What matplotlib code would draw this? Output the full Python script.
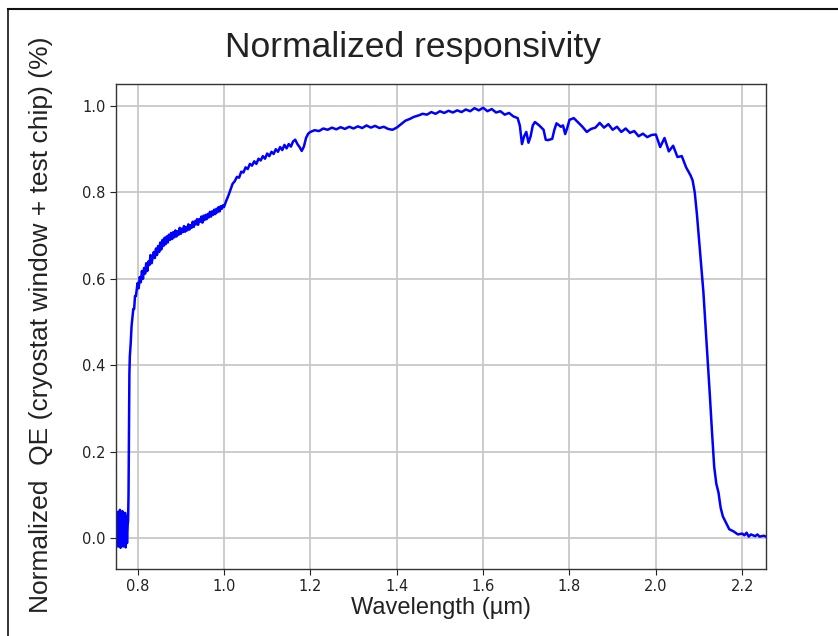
import matplotlib
matplotlib.use("Agg")
import matplotlib.pyplot as plt
from matplotlib.lines import Line2D

wavelength_noise = [0.7500, 0.7515, 0.7530, 0.7545, 0.7560, 0.7575, 0.7590, 0.7605,
                    0.7620, 0.7635, 0.7650, 0.7665, 0.7680, 0.7695, 0.7710, 0.7725,
                    0.7740, 0.7755, 0.7770, 0.7780]
qe_noise = [0.020, -0.015, 0.060, -0.020, 0.050, 0.000, 0.065, -0.023,
            0.055, -0.010, 0.062, -0.020, 0.045, -0.015, 0.058, -0.022,
            0.050, -0.012, 0.030, 0.040]

wavelength_rise = [0.779, 0.780, 0.781, 0.782, 0.784, 0.786, 0.788, 0.790, 0.792,
                   0.794, 0.796, 0.798]
qe_rise = [0.100, 0.250, 0.380, 0.420, 0.450, 0.490, 0.510, 0.530, 0.530,
           0.560, 0.560, 0.575]

wavelength_knee = [
    0.8000, 0.8025, 0.8050, 0.8075, 0.8100, 0.8125, 0.8150, 0.8175, 0.8200, 0.8225,
    0.8250, 0.8275, 0.8300, 0.8325, 0.8350, 0.8375, 0.8400, 0.8425, 0.8450, 0.8475,
    0.8500, 0.8525, 0.8550, 0.8575, 0.8600, 0.8625, 0.8650, 0.8675, 0.8700, 0.8725,
    0.8750, 0.8775, 0.8800, 0.8825, 0.8850, 0.8875, 0.8900, 0.8925, 0.8950, 0.8975,
    0.9000, 0.9025, 0.9050, 0.9075, 0.9100, 0.9125, 0.9150, 0.9175, 0.9200, 0.9225,
    0.9250, 0.9275, 0.9300, 0.9325, 0.9350, 0.9375, 0.9400, 0.9425, 0.9450, 0.9475,
    0.9500, 0.9525, 0.9550, 0.9575, 0.9600, 0.9625, 0.9650, 0.9675, 0.9700, 0.9725,
    0.9750, 0.9775, 0.9800, 0.9825, 0.9850, 0.9875, 0.9900, 0.9925, 0.9950, 0.9975,
    1.0000]
qe_knee = [
    0.590, 0.578, 0.604, 0.592, 0.618, 0.600, 0.625, 0.612, 0.636, 0.618,
    0.640, 0.632, 0.655, 0.636, 0.650, 0.662, 0.648, 0.670, 0.655, 0.676,
    0.662, 0.684, 0.668, 0.690, 0.676, 0.695, 0.680, 0.698, 0.684, 0.702,
    0.690, 0.706, 0.692, 0.708, 0.696, 0.712, 0.698, 0.710, 0.702, 0.718,
    0.704, 0.716, 0.708, 0.722, 0.709, 0.720, 0.712, 0.726, 0.714, 0.724,
    0.718, 0.732, 0.720, 0.733, 0.726, 0.738, 0.725, 0.738, 0.732, 0.744,
    0.730, 0.746, 0.736, 0.748, 0.738, 0.750, 0.742, 0.755, 0.744, 0.756,
    0.748, 0.760, 0.750, 0.762, 0.754, 0.766, 0.756, 0.768, 0.762, 0.770,
    0.766]

wavelength_shoulder = [
    1.005, 1.010, 1.015, 1.020, 1.025, 1.030, 1.035, 1.040, 1.045, 1.050,
    1.055, 1.060, 1.065, 1.070, 1.075, 1.080, 1.085, 1.090, 1.095, 1.100,
    1.105, 1.110, 1.115, 1.120, 1.125, 1.130, 1.135, 1.140, 1.145, 1.150,
    1.155, 1.160, 1.165, 1.170, 1.175, 1.180, 1.185, 1.190, 1.195, 1.200]
qe_shoulder = [
    0.780, 0.792, 0.806, 0.820, 0.826, 0.836, 0.834, 0.848, 0.846, 0.858,
    0.854, 0.866, 0.862, 0.872, 0.866, 0.878, 0.874, 0.884, 0.878, 0.890,
    0.884, 0.894, 0.889, 0.900, 0.894, 0.905, 0.898, 0.910, 0.902, 0.912,
    0.906, 0.918, 0.922, 0.912, 0.905, 0.896, 0.906, 0.926, 0.936, 0.940]

wavelength_plateau = [
    1.210, 1.220, 1.230, 1.240, 1.250, 1.260, 1.270, 1.280, 1.290, 1.300,
    1.310, 1.320, 1.330, 1.340, 1.350, 1.360, 1.370, 1.380, 1.390, 1.400,
    1.410, 1.420, 1.430, 1.440, 1.450, 1.460, 1.470, 1.480, 1.490, 1.500,
    1.510, 1.520, 1.530, 1.540, 1.550, 1.560, 1.570, 1.580, 1.590, 1.600,
    1.610, 1.620, 1.630, 1.640, 1.650, 1.660, 1.670, 1.680, 1.685, 1.690,
    1.695, 1.700, 1.705, 1.710, 1.715, 1.720, 1.730, 1.740, 1.745, 1.750,
    1.760, 1.765, 1.770, 1.780, 1.785, 1.790, 1.795, 1.800, 1.810, 1.820,
    1.830, 1.840, 1.850, 1.860, 1.870, 1.880, 1.890, 1.900, 1.910, 1.920,
    1.930, 1.940, 1.950, 1.960, 1.970, 1.980, 1.990, 2.000, 2.010, 2.020,
    2.030, 2.040, 2.050, 2.060, 2.070, 2.080, 2.085, 2.090]
qe_plateau = [
    0.944, 0.942, 0.948, 0.945, 0.950, 0.946, 0.951, 0.947, 0.952, 0.948,
    0.953, 0.949, 0.955, 0.950, 0.954, 0.949, 0.952, 0.947, 0.945, 0.950,
    0.958, 0.966, 0.970, 0.975, 0.978, 0.982, 0.980, 0.986, 0.982, 0.988,
    0.984, 0.989, 0.985, 0.990, 0.986, 0.992, 0.988, 0.995, 0.990, 0.996,
    0.988, 0.993, 0.985, 0.988, 0.980, 0.984, 0.976, 0.972, 0.955, 0.912,
    0.930, 0.940, 0.915, 0.930, 0.955, 0.963, 0.955, 0.945, 0.922, 0.921,
    0.924, 0.945, 0.960, 0.952, 0.955, 0.935, 0.950, 0.968, 0.972, 0.962,
    0.952, 0.940, 0.947, 0.950, 0.961, 0.950, 0.958, 0.945, 0.952, 0.940,
    0.948, 0.938, 0.942, 0.930, 0.936, 0.928, 0.933, 0.934, 0.905, 0.926,
    0.895, 0.908, 0.882, 0.884, 0.858, 0.840, 0.828, 0.800]

wavelength_cutoff = [
    2.095, 2.100, 2.105, 2.110, 2.115, 2.120, 2.125, 2.130, 2.135, 2.140,
    2.145, 2.150, 2.155, 2.160, 2.165, 2.170, 2.180, 2.190, 2.200, 2.205,
    2.210, 2.215, 2.220, 2.230, 2.235, 2.240, 2.250, 2.255]
qe_cutoff = [
    0.750, 0.690, 0.630, 0.570, 0.490, 0.410, 0.330, 0.245, 0.165, 0.125,
    0.105, 0.070, 0.050, 0.040, 0.030, 0.020, 0.015, 0.008, 0.010, 0.006,
    0.012, 0.003, 0.008, 0.004, 0.008, 0.003, 0.005, 0.003]

wavelength = (wavelength_noise + wavelength_rise + wavelength_knee +
              wavelength_shoulder + wavelength_plateau + wavelength_cutoff)
qe = qe_noise + qe_rise + qe_knee + qe_shoulder + qe_plateau + qe_cutoff

x_ticks = [0.8, 1.0, 1.2, 1.4, 1.6, 1.8, 2.0, 2.2]
y_ticks = [0.0, 0.2, 0.4, 0.6, 0.8, 1.0]

title_text = "Normalized responsivity"
xlabel_text = "Wavelength (\u00b5m)"
ylabel_text = "Normalized  QE (cryostat window + test chip) (%)"

fig = plt.figure(figsize=(8.38, 6.36), dpi=100)
ax = fig.add_axes([116 / 838, 1 - 569 / 636, 650 / 838, 485 / 636])

ax.plot(wavelength, qe, color="#0000ff", lw=1.8)
ax.set_xlim(min(wavelength), max(wavelength))
ax.set_ylim(-0.072, 1.051)
ax.set_xticks(x_ticks)
ax.set_yticks(y_ticks)
ax.set_xticklabels([f"{t:.1f}" for t in x_ticks])
ax.set_yticklabels([f"{t:.1f}" for t in y_ticks])
ax.grid(True, color="#c8c8c8", lw=1.3)
ax.tick_params(labelsize=10.5, colors="#222222", length=4)
for s in ax.spines.values():
    s.set_color("#333333")
    s.set_linewidth(1.0)

ax.set_xlabel(xlabel_text, fontsize=17, family="Liberation Sans", color="#222222", labelpad=2)

fig.text(413 / 838, 1 - 48 / 636, title_text, fontsize=25.5, family="Liberation Sans",
         color="#222222", ha="center", va="center")
fig.text(41 / 838, 1 - 325 / 636, ylabel_text, fontsize=19, family="Liberation Sans",
         color="#222222", ha="center", va="center", rotation=90)

# screenshot frame
fig.add_artist(Line2D([8 / 838, 837 / 838], [1 - 9 / 636, 1 - 9 / 636],
                      transform=fig.transFigure, color="#111111", lw=1.5))
fig.add_artist(Line2D([8 / 838, 8 / 838], [1 - 9 / 636, 0],
                      transform=fig.transFigure, color="#111111", lw=1.2))

fig.savefig("out.png", dpi=100)
